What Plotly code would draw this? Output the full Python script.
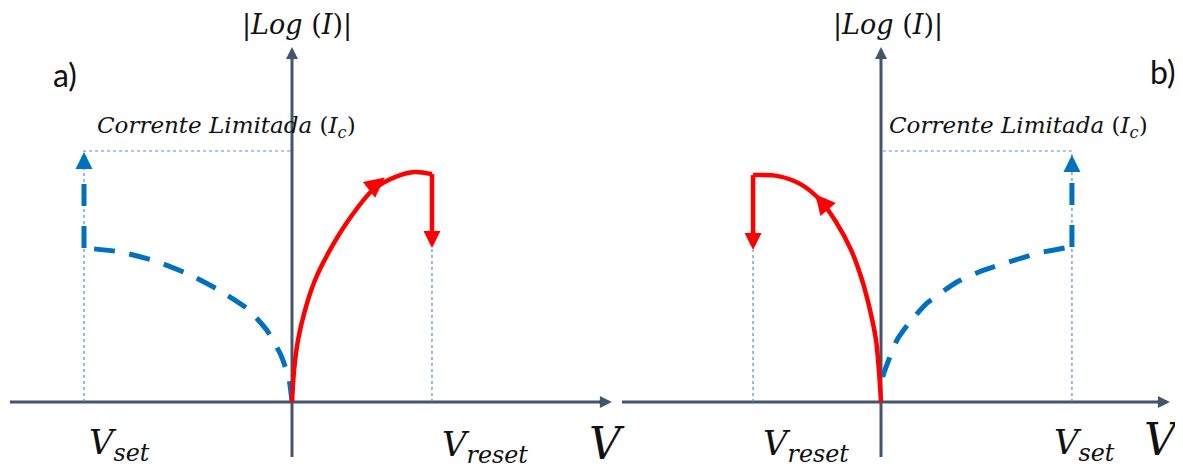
import math
import plotly.graph_objects as go
from plotly.subplots import make_subplots

# values: V in units of |V_set| (panel a), |Log(I)| in units of I_c
i_c = 1.0
v_set_a, v_reset_a = -1.0, 0.673
v_set_b, v_reset_b = 0.918, -0.615

# panel a) - SET branch (blue dashed) and RESET branch (red)
set_a_v = [0, -0.015, -0.055, -0.120, -0.212, -0.356, -0.500, -0.658, -0.826, -1.0]
set_a_i = [0, 0.095, 0.190, 0.285, 0.370, 0.448, 0.510, 0.562, 0.598, 0.614]
reset_a_v = [0, 0.010, 0.029, 0.063, 0.111, 0.183, 0.279, 0.389, 0.495, 0.591, 0.673]
reset_a_i = [0, 0.127, 0.247, 0.367, 0.486, 0.606, 0.733, 0.845, 0.896, 0.916, 0.908]

# panel b) - mirrored
set_b_v = [0.008, 0.024, 0.077, 0.135, 0.221, 0.365, 0.471, 0.615, 0.760, 0.885, 0.918]
set_b_i = [0.10, 0.139, 0.247, 0.315, 0.394, 0.478, 0.518, 0.558, 0.594, 0.614, 0.618]
reset_b_v = [0, -0.010, -0.024, -0.053, -0.091, -0.144, -0.216, -0.293, -0.389, -0.495, -0.615]
reset_b_i = [0, 0.127, 0.247, 0.367, 0.486, 0.606, 0.717, 0.805, 0.869, 0.900, 0.904]

# where the jumps end (just below the arrow heads)
jump_set_end = 0.93
jump_reset_end = 0.66

# arrow tips (V, |Log I|, direction in deg clockwise from up)
curve_tip_a = (0.446, 0.894, 52)
curve_tip_b = (-0.316, 0.828, -40)
set_tip_a, set_tip_b = 0.996, 0.984
reset_tip_a, reset_tip_b = 0.614, 0.606

# axes extents
xaxis_a = (-1.356, 1.538)
xaxis_b = (-1.245, 1.389)
yaxis_ext = (-0.219, 1.414)

RED = "#FF0000"
BLUE = "#0070C0"
THIN = "#4A8FD6"
AXC = "#44546A"
MATH = "DejaVu Serif"

# page has an 8px body margin
FW, FH = 1175, 460
fig = make_subplots(rows=1, cols=2, horizontal_spacing=0, column_widths=[609, 566])


def arrow_tip(xr, yr, v, i, ang, color, w, size=3.4, length=18):
    a = math.radians(ang)
    fig.add_annotation(xref=xr, yref=yr, x=v, y=i, ax=-math.sin(a) * length, ay=math.cos(a) * length,
                       text="", showarrow=True, arrowhead=2, arrowwidth=w,
                       arrowsize=size / w, arrowcolor=color, standoff=0)


def panel(col, v_set, v_reset, set_v, set_i, reset_v, reset_i, xext, set_tip, reset_tip, curve_tip):
    xr = "x" if col == 1 else "x2"
    yr = "y" if col == 1 else "y2"
    dot = dict(color=THIN, width=1.2, dash="dot")
    # thin guides
    fig.add_trace(go.Scatter(x=[v_set, v_set, 0], y=[set_i[-1], i_c, i_c], mode="lines", line=dot,
                             hoverinfo="skip"), row=1, col=col)
    fig.add_trace(go.Scatter(x=[v_set, v_set], y=[0, set_i[-1]], mode="lines", line=dot,
                             hoverinfo="skip"), row=1, col=col)
    fig.add_trace(go.Scatter(x=[v_reset, v_reset], y=[0, reset_tip], mode="lines", line=dot,
                             hoverinfo="skip"), row=1, col=col)
    # SET branch + jump to compliance
    fig.add_trace(go.Scatter(x=set_v, y=set_i, mode="lines",
                             line=dict(color=BLUE, width=5, dash="21px,15px", shape="spline", smoothing=0.5),
                             hoverinfo="skip"), row=1, col=col)
    fig.add_trace(go.Scatter(x=[v_set, v_set], y=[set_i[-1], jump_set_end], mode="lines",
                             line=dict(color=BLUE, width=5, dash="22px,20px"), hoverinfo="skip"), row=1, col=col)
    # RESET branch + drop
    fig.add_trace(go.Scatter(x=reset_v, y=reset_i, mode="lines",
                             line=dict(color=RED, width=4.5, shape="spline", smoothing=0.8),
                             hoverinfo="skip"), row=1, col=col)
    fig.add_trace(go.Scatter(x=[v_reset, v_reset], y=[reset_i[-1], jump_reset_end], mode="lines",
                             line=dict(color=RED, width=4.5), hoverinfo="skip"), row=1, col=col)

    # axes: lines below, heads on top
    fig.add_shape(type="line", xref=xr, yref=yr, x0=xext[0], x1=xext[1] - 0.03, y0=0, y1=0,
                  line=dict(color=AXC, width=3), layer="below")
    fig.add_shape(type="line", xref=xr, yref=yr, x0=0, x1=0, y0=yaxis_ext[0], y1=yaxis_ext[1] - 0.03,
                  line=dict(color=AXC, width=3), layer="below")
    fig.add_annotation(xref=xr, yref=yr, x=xext[1], y=0, ax=-14, ay=0, text="", showarrow=True,
                       arrowhead=2, arrowwidth=3, arrowsize=0.8, arrowcolor=AXC, standoff=0)
    fig.add_annotation(xref=xr, yref=yr, x=0, y=yaxis_ext[1], ax=0, ay=14, text="", showarrow=True,
                       arrowhead=2, arrowwidth=3, arrowsize=0.8, arrowcolor=AXC, standoff=0)

    arrow_tip(xr, yr, v_set, set_tip, 0, BLUE, 5)
    arrow_tip(xr, yr, v_reset, reset_tip, 180, RED, 4.5)
    arrow_tip(xr, yr, curve_tip[0], curve_tip[1], curve_tip[2], RED, 4.5, size=4.0, length=21)


panel(1, v_set_a, v_reset_a, set_a_v, set_a_i, reset_a_v, reset_a_i, xaxis_a, set_tip_a, reset_tip_a, curve_tip_a)
panel(2, v_set_b, v_reset_b, set_b_v, set_b_i, reset_b_v, reset_b_i, xaxis_b, set_tip_b, reset_tip_b, curve_tip_b)


def label(col, x, y, text, size, family=MATH, color="#111111"):
    xr = "x" if col == 1 else "x2"
    yr = "y" if col == 1 else "y2"
    fig.add_annotation(xref=xr, yref=yr, x=x, y=y, text=text, showarrow=False,
                       font=dict(family=family, size=size, color=color))


log_txt = "|<i>Log</i> (<i>I</i>)|"
ic_txt = "<i>Corrente Limitada</i> (<i>I<sub>c</sub></i>)"
label(1, 0.024, 1.502, log_txt, 27)
label(2, 0.034, 1.502, log_txt, 27)
label(1, -1.091, 1.303, "a)", 32, "Lato")
label(2, 1.356, 1.315, "b)", 32, "Lato")
label(1, -0.317, 1.096, ic_txt, 23)
label(2, 0.659, 1.096, ic_txt, 23)
label(1, -0.827, -0.171, "<i>V<sub>set</sub></i>", 34)
label(1, 0.928, -0.179, "<i>V<sub>reset</sub></i>", 34)
label(1, 1.514, -0.165, "<i>V</i>", 44)
label(2, -0.361, -0.175, "<i>V<sub>reset</sub></i>", 34)
label(2, 0.976, -0.171, "<i>V<sub>set</sub></i>", 34)
label(2, 1.351, -0.148, "<i>V</i>", 44)

fig.update_xaxes(visible=False)
fig.update_yaxes(visible=False, range=[(402 - 468) / 251, (402 - 8) / 251])
fig.update_xaxes(range=[(8 - 292) / 208, (617 - 292) / 208], row=1, col=1)
fig.update_xaxes(range=[(617 - 881) / 208, (1183 - 881) / 208], row=1, col=2)

fig.update_layout(width=FW, height=FH, margin=dict(l=0, r=0, t=0, b=0),
                  plot_bgcolor="white", paper_bgcolor="white", showlegend=False)

fig.write_html("out.html")
